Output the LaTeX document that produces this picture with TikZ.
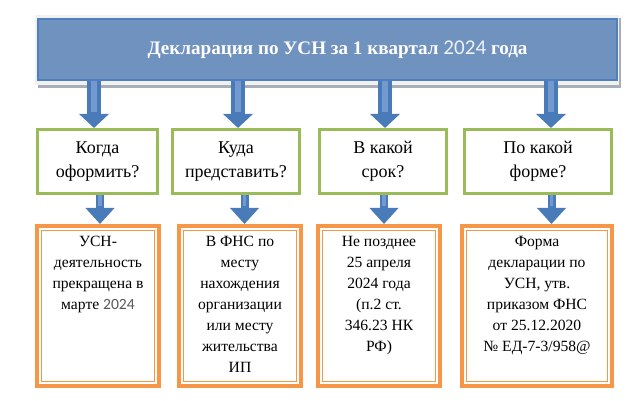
\documentclass[tikz,border=0pt]{standalone}
\usepackage{fontspec}
\setmainfont{Liberation Serif}
\newfontfamily\digitfont{Carlito}
\usepackage{tikz}
\usetikzlibrary{arrows.meta,positioning}

\definecolor{titleblue}{HTML}{7092BE}
\definecolor{titleedge}{HTML}{4F7FBE}
\definecolor{framegray}{HTML}{F1F1F1}
\definecolor{shadowgray}{HTML}{A7AEB6}
\definecolor{arrowblue}{HTML}{4A7BB9}
\definecolor{arrowlight}{HTML}{7399CE}
\definecolor{askgreen}{HTML}{9BBB59}
\definecolor{ansorange}{HTML}{F79646}

\begin{document}
\begin{tikzpicture}[x=0.025cm,y=-0.025cm,
		titlebox/.style={draw=titleedge, line width=0.04cm, fill=titleblue, minimum width=14.475cm, minimum height=1.525cm, font=\fontsize{13.6}{16}\selectfont\bfseries, text=white},
		askbox/.style={draw=askgreen, line width=0.075cm, fill=white, minimum height=1.6cm, align=center, font=\fontsize{12.8}{17}\selectfont},
		ansbox/.style={draw=ansorange, line width=0.1cm, fill=white, minimum width=3.05cm, minimum height=4cm,
			path picture={\draw[ansorange, line width=0.025cm] ([shift={(0.1125cm,-0.1125cm)}]path picture bounding box.north west) rectangle ([shift={(-0.1125cm,0.1125cm)}]path picture bounding box.south east);}},
		anstext/.style={align=center, inner sep=0pt, anchor=north, font=\fontsize{11.1}{14.9}\selectfont},
		toparrow/.style={draw=arrowblue, line width=0.35cm, -{Triangle[width=0.725cm,length=0.35cm]},
			postaction={draw=arrowlight, line width=0.15cm, shorten >=0.4cm, -}},
		lowarrow/.style={draw=arrowblue, line width=0.2cm, -{Triangle[width=0.7cm,length=0.4cm]},
			postaction={draw=arrowlight, line width=0.08cm, shorten >=0.45cm, -}}]
	\useasboundingbox (0,0) rectangle (642,400);
	% frame and shadow behind the title
	\fill[shadowgray] (38,18) rectangle (621,88);
	\fill[framegray] (35,15) rectangle (619,85);
	\node[titlebox] (title) at (327.5,49.5) {\hspace*{0.5cm}Декларация по УСН за 1 квартал {\digitfont\mdseries\fontsize{15}{16}\selectfont\color{white!88!titleblue}2024} года};

	% questions
	\node[askbox, minimum width=3cm] (g1) at (97.5,161.5) {Когда\\оформить?};
	\node[askbox, minimum width=3.175cm] (g2) at (236,161.5) {Куда\\представить?};
	\node[askbox, minimum width=3.175cm] (g3) at (383,161.5) {В какой\\срок?};
	\node[askbox, minimum width=3.675cm] (g4) at (538,161.5) {По какой\\форме?};

	% answers
	\node[ansbox] (o1) at (98,306) {};
	\node[ansbox] (o2) at (240,306) {};
	\node[ansbox] (o3) at (379,306) {};
	\node[ansbox, minimum width=3.75cm] (o4) at (537,306) {};
	\node[anstext] (t1) at ([yshift=-0.3cm]o1.north) {УСН-\\деятельность\\прекращена в\\марте {\digitfont\color{black!65}2024}};
	\node[anstext] (t2) at ([yshift=-0.3cm]o2.north) {В ФНС по\\месту\\нахождения\\организации\\или месту\\жительства\\ИП};
	\node[anstext] (t3) at ([yshift=-0.3cm]o3.north) {Не позднее\\25 апреля\\2024 года\\(п.2 ст.\\346.23 НК\\РФ)};
	\node[anstext] (t4) at ([yshift=-0.3cm]o4.north) {Форма\\декларации по\\УСН, утв.\\приказом ФНС\\от 25.12.2020\\№ ЕД-7-3/958@};

	% arrows
	\foreach \n/\dx in {1/-3.5, 2/2, 3/2, 4/13}
		\draw[toparrow] ([xshift=\dx*0.025cm]title.south -| g\n.north) -- ([xshift=\dx*0.025cm]g\n.north);
	\foreach \n/\dx in {1/2.5, 2/8.5, 3/1, 4/13.5}
		\draw[lowarrow] ([xshift=\dx*0.025cm]g\n.south) -- ([xshift=\dx*0.025cm]g\n.south |- o\n.north);
\end{tikzpicture}
\end{document}
